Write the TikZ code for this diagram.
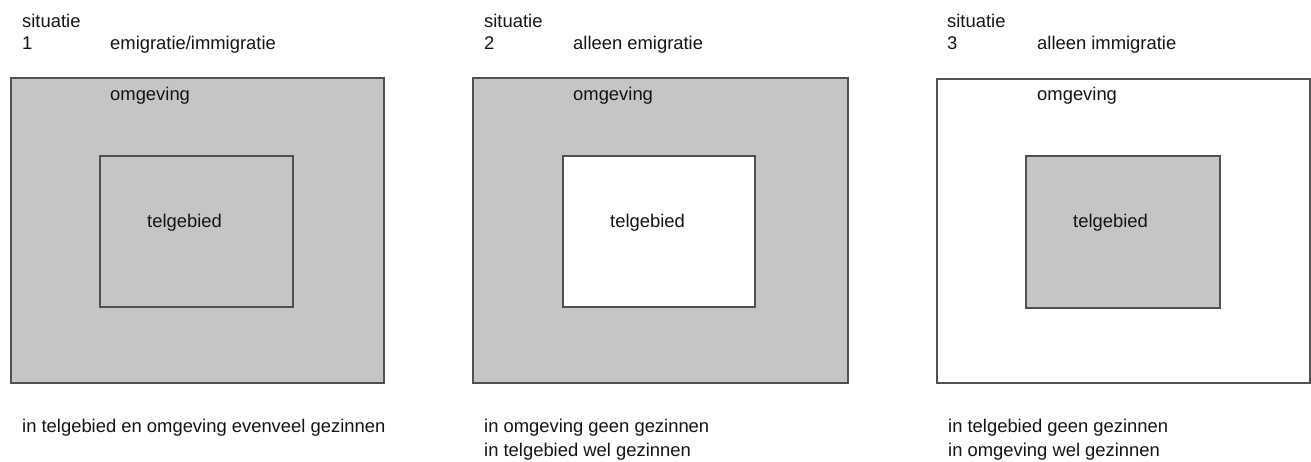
\documentclass[tikz,border=0pt]{standalone}
\usepackage{fontspec}
\setmainfont{Liberation Sans}
\definecolor{boxfill}{RGB}{198,196,198}
\definecolor{boxline}{RGB}{80,80,80}
\definecolor{txt}{RGB}{20,20,20}
\begin{document}
\begin{tikzpicture}[x=1pt,y=-1pt,
  lbl/.style={anchor=base west,inner sep=0pt,text=txt,font=\fontsize{18.4}{22}\selectfont},
  outerbox/.style={draw=boxline,line width=1.9pt},
  innerbox/.style={draw=boxline,line width=1.9pt}]
\useasboundingbox (0,0) rectangle (1311,461);
% situation 1
\draw[outerbox,fill=boxfill] (11,78) rectangle (384,383);
\draw[innerbox,fill=boxfill] (100,156) rectangle (293,307);
\node[lbl] (s1a) at (22,27) {situatie};
\node[lbl] (s1b) at (22,49) {1};
\node[lbl] (s1c) at (110,49) {emigratie/immigratie};
\node[lbl] (o1) at (110,100) {omgeving};
\node[lbl] (t1) at (147,227) {telgebied};
\node[lbl] (b1) at (22,432) {in telgebied en omgeving evenveel gezinnen};
% situation 2
\draw[outerbox,fill=boxfill] (473,78) rectangle (848,383);
\draw[innerbox,fill=white] (563,156) rectangle (755,307);
\node[lbl] (s2a) at (484,27) {situatie};
\node[lbl] (s2b) at (484,49) {2};
\node[lbl] (s2c) at (573,49) {alleen emigratie};
\node[lbl] (o2) at (573,100) {omgeving};
\node[lbl] (t2) at (610,227) {telgebied};
\node[lbl] (b2a) at (484,432) {in omgeving geen gezinnen};
\node[lbl] (b2b) at (484,456) {in telgebied wel gezinnen};
% situation 3
\draw[outerbox,fill=white] (937,79) rectangle (1310,383);
\draw[innerbox,fill=boxfill] (1026,156) rectangle (1220,308);
\node[lbl] (s3a) at (947,27) {situatie};
\node[lbl] (s3b) at (947,49) {3};
\node[lbl] (s3c) at (1037,49) {alleen immigratie};
\node[lbl] (o3) at (1037,100) {omgeving};
\node[lbl] (t3) at (1073,227) {telgebied};
\node[lbl] (b3a) at (948,432) {in telgebied geen gezinnen};
\node[lbl] (b3b) at (948,456) {in omgeving wel gezinnen};
\end{tikzpicture}
\end{document}
